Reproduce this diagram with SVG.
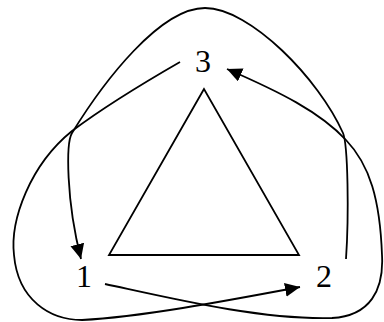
<svg xmlns="http://www.w3.org/2000/svg" width="384" height="322" viewBox="0 0 384 322">
<style>
.c{fill:none;stroke:#000;stroke-width:1.8}
.t{font-family:"Liberation Serif","Times New Roman",serif;font-size:32px;fill:#000;text-anchor:middle}
</style>
<defs>
<marker id="ah" markerUnits="userSpaceOnUse" markerWidth="16" markerHeight="15" refX="15" refY="7" orient="auto" viewBox="0 0 16 15">
<path d="M0,0 L15,7 L0,14 z" fill="#000"/>
</marker>
</defs>
<rect width="384" height="322" fill="#fff"/>
<g id="triangle"><polygon class="c" points="204,89 109,255 299,255"/></g>
<g id="node3"><text class="t" x="203" y="72">3</text></g>
<g id="node1"><text class="t" x="84" y="287">1</text></g>
<g id="node2"><text class="t" x="324" y="287">2</text></g>
<g id="connectors">
<path class="c" marker-end="url(#ah)" d="M180,62 C140,85 100,110 72,131 C30,165 10,220 14,255 C18,300 50,320 82,320 C140,317 220,302 300,287"/>
<path class="c" marker-end="url(#ah)" d="M105,284 C170,298 260,320 332,318 C370,316 384,290 382,255 C380,200 370,165 346,140 C320,112 280,92 227,69"/>
<path class="c" marker-end="url(#ah)" d="M346,259 C349,215 348,145 343,133 C319,79 250,8 205,8 C160,8 104,81 72,133 C66,143 66,200 81,259"/>
</g>
</svg>
